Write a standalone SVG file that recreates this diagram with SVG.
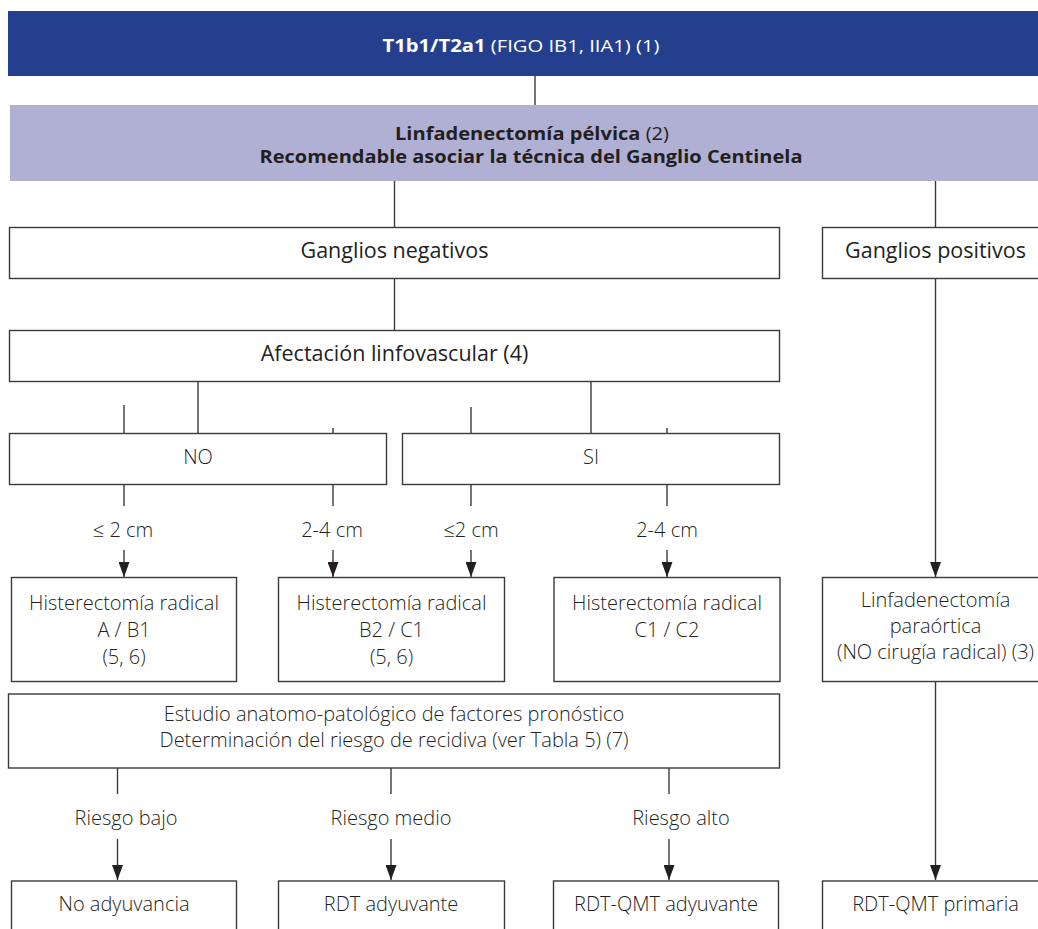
<svg xmlns="http://www.w3.org/2000/svg" width="1038" height="929" viewBox="0 0 1038 929">
<defs>
<style>
.box{fill:#fff;stroke:#3a3a3a;stroke-width:1.4}
.ln{stroke:#3a3a3a;stroke-width:1.4;fill:none}
.arr{stroke:#3a3a3a;stroke-width:1.4;fill:none;marker-end:url(#ah)}
.t{font-family:"Open Sans","Noto Sans",sans-serif;font-size:20px;fill:#231f20;text-anchor:middle;font-weight:300}
.t1{font-family:"Open Sans","Noto Sans",sans-serif;font-size:21.5px;fill:#231f20;text-anchor:middle;font-weight:400}
.hd{font-family:"Open Sans","Noto Sans",sans-serif;font-size:17px;fill:#fff;text-anchor:middle}
.bd{font-family:"Open Sans","Noto Sans",sans-serif;font-size:17.5px;fill:#231f20;text-anchor:middle}
.b{font-weight:bold}
</style>
<marker id="ah" viewBox="0 0 15 11" refX="15" refY="5.5" markerWidth="15" markerHeight="11" markerUnits="userSpaceOnUse" orient="auto">
<path d="M0,0 L15,5.5 L0,11 z" fill="#231f20"/>
</marker>
</defs>
<rect width="1038" height="929" fill="#fff"/>

<g id="connectors">
<line class="ln" x1="535" y1="76" x2="535" y2="105"/>
<line class="ln" x1="394.5" y1="181" x2="394.5" y2="227"/>
<line class="ln" x1="935.5" y1="181" x2="935.5" y2="227"/>
<line class="ln" x1="394.5" y1="279" x2="394.5" y2="330"/>
<line class="ln" x1="198" y1="382" x2="198" y2="433"/>
<line class="ln" x1="591" y1="382" x2="591" y2="433"/>
<line class="ln" x1="124" y1="405" x2="124" y2="433"/>
<line class="ln" x1="333" y1="428" x2="333" y2="433"/>
<line class="ln" x1="471" y1="407" x2="471" y2="433"/>
<line class="ln" x1="667" y1="428" x2="667" y2="433"/>
<line class="ln" x1="124" y1="485" x2="124" y2="506"/>
<line class="ln" x1="333" y1="485" x2="333" y2="506"/>
<line class="ln" x1="471" y1="485" x2="471" y2="506"/>
<line class="ln" x1="667" y1="485" x2="667" y2="506"/>
<line class="arr" x1="124" y1="550" x2="124" y2="577"/>
<line class="arr" x1="333" y1="550" x2="333" y2="577"/>
<line class="arr" x1="471" y1="550" x2="471" y2="577"/>
<line class="arr" x1="667" y1="550" x2="667" y2="577"/>
<line class="arr" x1="935.5" y1="279" x2="935.5" y2="577"/>
<line class="ln" x1="117.5" y1="768" x2="117.5" y2="794"/>
<line class="ln" x1="391" y1="768" x2="391" y2="794"/>
<line class="ln" x1="669" y1="768" x2="669" y2="794"/>
<line class="arr" x1="117.5" y1="839" x2="117.5" y2="880"/>
<line class="arr" x1="391" y1="839" x2="391" y2="880"/>
<line class="arr" x1="669" y1="839" x2="669" y2="880"/>
<line class="arr" x1="935.5" y1="681.5" x2="935.5" y2="880"/>
<text class="t" x="123" y="537">≤ 2 cm</text>
<text class="t" x="332" y="537">2-4 cm</text>
<text class="t" x="471" y="537">≤2 cm</text>
<text class="t" x="667" y="537">2-4 cm</text>
<text class="t" x="126" y="825">Riesgo bajo</text>
<text class="t" x="391" y="825">Riesgo medio</text>
<text class="t" x="681" y="825">Riesgo alto</text>
</g>

<g id="n-header">
<rect x="8" y="11" width="1040" height="65" fill="#253f8f"/>
<text class="hd" x="521" y="52" textLength="277" lengthAdjust="spacingAndGlyphs"><tspan class="b">T1b1/T2a1</tspan> (FIGO IB1, IIA1) (1)</text>
</g>

<g id="n-linfpelvica">
<rect x="10" y="105" width="1040" height="76" fill="#b0b0d5"/>
<text class="bd" x="532" y="140" textLength="274" lengthAdjust="spacingAndGlyphs"><tspan class="b">Linfadenectomía pélvica</tspan> (2)</text>
<text class="bd b" x="531" y="163" textLength="543" lengthAdjust="spacingAndGlyphs">Recomendable asociar la técnica del Ganglio Centinela</text>
</g>

<g id="n-gneg">
<rect class="box" x="9.5" y="227.5" width="770" height="51"/>
<text class="t1" x="394.5" y="258">Ganglios negativos</text>
</g>

<g id="n-gpos">
<rect class="box" x="822.5" y="227.5" width="240" height="51"/>
<text class="t1" x="935.5" y="258">Ganglios positivos</text>
</g>

<g id="n-afect">
<rect class="box" x="9.5" y="330.5" width="770" height="51"/>
<text class="t1" x="394.5" y="361">Afectación linfovascular (4)</text>
</g>

<g id="n-no">
<rect class="box" x="9.5" y="433.5" width="377" height="51"/>
<text class="t" x="198" y="464">NO</text>
</g>

<g id="n-si">
<rect class="box" x="402.5" y="433.5" width="377" height="51"/>
<text class="t" x="591" y="464">SI</text>
</g>

<g id="n-hr1">
<rect class="box" x="11.5" y="577.5" width="225" height="104"/>
<text class="t" x="124" y="610">Histerectomía radical</text>
<text class="t" x="124" y="637">A / B1</text>
<text class="t" x="124" y="664">(5, 6)</text>
</g>

<g id="n-hr2">
<rect class="box" x="278.5" y="577.5" width="226" height="104"/>
<text class="t" x="391.5" y="610">Histerectomía radical</text>
<text class="t" x="391.5" y="637">B2 / C1</text>
<text class="t" x="391.5" y="664">(5, 6)</text>
</g>

<g id="n-hr3">
<rect class="box" x="554" y="577.5" width="226" height="104"/>
<text class="t" x="667" y="610">Histerectomía radical</text>
<text class="t" x="667" y="637">C1 / C2</text>
</g>

<g id="n-paraortica">
<rect class="box" x="822.5" y="577.5" width="240" height="104"/>
<text class="t" x="935.5" y="607">Linfadenectomía</text>
<text class="t" x="935.5" y="633">paraórtica</text>
<text class="t" x="935.5" y="659">(NO cirugía radical) (3)</text>
</g>

<g id="n-estudio">
<rect class="box" x="8.5" y="694" width="771" height="74"/>
<text class="t" x="394" y="721">Estudio anatomo-patológico de factores pronóstico</text>
<text class="t" x="394" y="747">Determinación del riesgo de recidiva (ver Tabla 5) (7)</text>
</g>

<g id="n-noady">
<rect class="box" x="11.5" y="881" width="225" height="60"/>
<text class="t" x="124" y="911">No adyuvancia</text>
</g>

<g id="n-rdt">
<rect class="box" x="278.5" y="881" width="226" height="60"/>
<text class="t" x="391" y="911">RDT adyuvante</text>
</g>

<g id="n-rdtqmt">
<rect class="box" x="553.5" y="881" width="225" height="60"/>
<text class="t" x="666" y="911">RDT-QMT adyuvante</text>
</g>

<g id="n-primaria">
<rect class="box" x="822.5" y="881" width="240" height="60"/>
<text class="t" x="935.5" y="911">RDT-QMT primaria</text>
</g>
</svg>
